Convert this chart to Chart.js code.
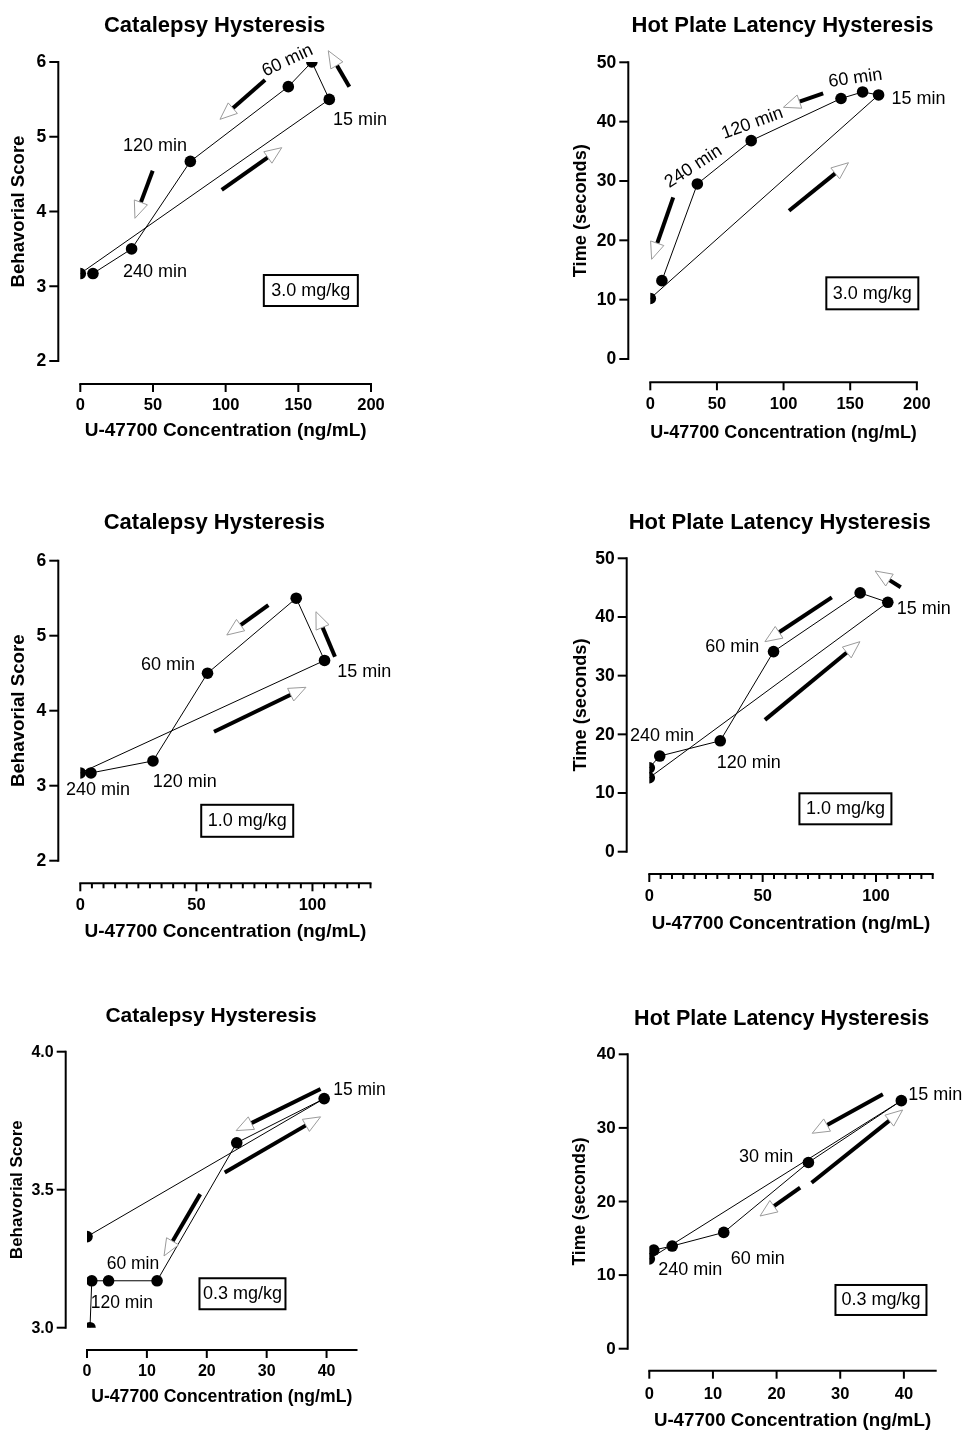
<!DOCTYPE html>
<html>
<head>
<meta charset="utf-8">
<script src="https://cdn.jsdelivr.net/npm/chart.js@4.4.1/dist/chart.umd.min.js"></script>
<style>
html,body{margin:0;padding:0;background:#fff;}
body{width:966px;height:1433px;position:relative;overflow:hidden;}
canvas{position:absolute;}
</style>
</head>
<body>
<canvas id="c1"></canvas>
<canvas id="c2"></canvas>
<canvas id="c3"></canvas>
<canvas id="c4"></canvas>
<canvas id="c5"></canvas>
<canvas id="c6"></canvas>
<script>
// ---------------- DATA ----------------
// 3.0 mg/kg
const cat30Conc  = [0, 171.3, 159.3, 143.1, 75.7, 35.3, 8.7];
const cat30Score = [3.17, 5.5, 6.0, 5.67, 4.67, 3.5, 3.17];
const hot30Conc  = [0, 171.3, 159.3, 143.1, 75.7, 35.3, 8.7];
const hot30Time  = [10.2, 44.5, 45.0, 43.9, 36.8, 29.5, 13.2];
// 1.0 mg/kg
const cat10Conc  = [0, 105.2, 93.0, 54.8, 31.3, 4.6];
const cat10Score = [3.17, 4.67, 5.5, 4.5, 3.33, 3.17];
const hot10Conc  = [0, 105.2, 93.0, 54.8, 31.3, 4.6, 0];
const hot10Time  = [12.6, 42.5, 44.1, 34.1, 18.9, 16.3, 14.3];
// 0.3 mg/kg
const cat03Conc  = [0, 39.6, 25.0, 11.7, 3.6, 0.8, 0.5];
const cat03Score = [3.33, 3.83, 3.67, 3.17, 3.17, 3.17, 3.0];
const hot03Conc  = [0, 39.6, 25.0, 11.7, 3.6, 0.7];
const hot03Time  = [12.2, 33.7, 25.3, 15.8, 13.95, 13.4];

// tick values
const xTicks200    = [0, 50, 100, 150, 200];
const xTicks125    = [0, 50, 100];
const xTicks45     = [0, 10, 20, 30, 40];
const yTicksScore6 = [2, 3, 4, 5, 6];
const yTicksTime50 = [0, 10, 20, 30, 40, 50];
const yTicksScore4 = [3.0, 3.5, 4.0];
const yTicksTime40 = [0, 10, 20, 30, 40];

// texts
const catTitle = 'Catalepsy Hysteresis';
const hotTitle = 'Hot Plate Latency Hysteresis';
const catYTitle = 'Behavorial Score';
const hotYTitle = 'Time (seconds)';
const xTitle = 'U-47700 Concentration (ng/mL)';

// ---------------- LAYOUT / ANNOTATIONS ----------------
const FONT = '"Liberation Sans", Arial, Helvetica, sans-serif';
Chart.defaults.font.family = FONT;
Chart.defaults.color = '#000';

const panels = [
  { id:'c1', canvas:{x:0,y:0,w:483,h:470}, title:catTitle, yTitle:catYTitle,
    conc:cat30Conc, vals:cat30Score, xMax:200, xTicks:xTicks200, yMin:2, yMax:6, yTicks:yTicksScore6, yDec:0, minor:null,
    g:{yAxisX:58.3, chartLeft:80.3, chartRight:371, chartTop:62, chartBottom:361, xAxisY:384, titleY:25.5, yTitleX:18.5, xTitleY:431, xLabOff:21.5},
    f:{title:22, xAxis:19, yAxis:18.6, tick:16.5, ytick:17.5, label:18},
    labels:[{t:'60 min',x:142.6,y:6.017,a:'center',r:-25},{t:'15 min',x:173.9,y:5.224,a:'left'},
            {t:'120 min',x:29.4,y:4.876,a:'left'},{t:'240 min',x:29.4,y:3.191,a:'left'}],
    arrows:[[97.3,4.288,138.6,4.854],[127.1,5.759,96.1,5.233],[49.8,4.546,37.6,3.909],[185.1,5.670,170.6,6.151]],
    box:{t:'3.0 mg/kg',x:158.6,y:2.943,w:94,h:31} },
  { id:'c2', canvas:{x:483,y:0,w:483,h:470}, title:hotTitle, yTitle:hotYTitle,
    conc:hot30Conc, vals:hot30Time, xMax:200, xTicks:xTicks200, yMin:0, yMax:50, yTicks:yTicksTime50, yDec:0, minor:null,
    g:{yAxisX:628.3, chartLeft:650.3, chartRight:936.7, chartTop:62.3, chartBottom:359, xAxisY:382.3, titleY:26, yTitleX:580.8, xTitleY:433, xLabOff:22},
    f:{title:22, xAxis:18.9, yAxis:18.2, tick:16.5, ytick:17.5, label:18},
    labels:[{t:'60 min',x:153.9,y:47.3,a:'center',r:-8},{t:'15 min',x:180.9,y:43.8,a:'left'},
            {t:'120 min',x:76.6,y:39.7,a:'center',r:-20},{t:'240 min',x:32.4,y:32.4,a:'center',r:-33}],
    arrows:[[104.1,24.99,148.7,33.08],[129.7,44.78,99.9,42.42],[17.2,27.25,1.0,16.8]],
    box:{t:'3.0 mg/kg',x:166.6,y:11.07,w:92,h:32} },
  { id:'c3', canvas:{x:0,y:470,w:483,h:485}, title:catTitle, yTitle:catYTitle,
    conc:cat10Conc, vals:cat10Score, xMax:125, xTicks:xTicks125, yMin:2, yMax:6, yTicks:yTicksScore6, yDec:0, minor:5,
    g:{yAxisX:58.3, chartLeft:80.3, chartRight:370.5, chartTop:560.7, chartBottom:860.7, xAxisY:883.3, titleY:523, yTitleX:18.5, xTitleY:932, xLabOff:21.7},
    f:{title:22, xAxis:19, yAxis:18.7, tick:16.5, ytick:17.5, label:18},
    labels:[{t:'60 min',x:49.4,y:4.611,a:'right'},{t:'15 min',x:110.7,y:4.52,a:'left'},
            {t:'120 min',x:31.2,y:3.053,a:'left'},{t:'240 min',x:-6.2,y:2.943,a:'left'}],
    arrows:[[57.6,3.72,97.2,4.312],[81.0,5.409,63.1,5.009],[109.7,4.72,101.5,5.32]],
    box:{t:'1.0 mg/kg',x:71.9,y:2.532,w:92,h:32} },
  { id:'c4', canvas:{x:483,y:470,w:483,h:485}, title:hotTitle, yTitle:hotYTitle,
    conc:hot10Conc, vals:hot10Time, xMax:125, xTicks:xTicks125, yMin:0, yMax:50, yTicks:yTicksTime50, yDec:0, minor:5,
    g:{yAxisX:626.7, chartLeft:649.3, chartRight:932.7, chartTop:558.3, chartBottom:851.7, xAxisY:874, titleY:523, yTitleX:580.5, xTitleY:924, xLabOff:22.7},
    f:{title:22, xAxis:18.8, yAxis:18.2, tick:16.5, ytick:17.5, label:18},
    labels:[{t:'15 min',x:109.1,y:41.31,a:'left'},{t:'60 min',x:48.5,y:34.83,a:'right'},
            {t:'240 min',x:-8.5,y:19.72,a:'left'},{t:'120 min',x:29.7,y:15.17,a:'left'}],
    arrows:[[51.0,22.46,92.9,35.79],[80.5,43.35,51.0,35.79],[110.9,45.06,99.6,47.84]],
    box:{t:'1.0 mg/kg',x:86.5,y:7.31,w:92,h:31} },
  { id:'c5', canvas:{x:0,y:955,w:483,h:478}, title:catTitle, yTitle:catYTitle,
    conc:cat03Conc, vals:cat03Score, xMax:45, xTicks:xTicks45, yMin:3, yMax:4, yTicks:yTicksScore4, yDec:1, minor:null,
    g:{yAxisX:65.7, chartLeft:87, chartRight:356.5, chartTop:1051.7, chartBottom:1327.7, xAxisY:1350, titleY:1016, yTitleX:17, xTitleY:1397, xLabOff:21.7},
    f:{title:21, xAxis:17.6, yAxis:17, tick:16, ytick:16, label:17.5},
    labels:[{t:'15 min',x:41.1,y:3.859,a:'left'},{t:'60 min',x:3.29,y:3.23,a:'left'},{t:'120 min',x:0.62,y:3.088,a:'left'}],
    arrows:[[39.0,3.865,24.9,3.714],[23.0,3.562,39.0,3.764],[18.9,3.484,12.86,3.26]],
    box:{t:'0.3 mg/kg',x:25.96,y:3.123,w:86,h:31} },
  { id:'c6', canvas:{x:483,y:955,w:483,h:478}, title:hotTitle, yTitle:hotYTitle,
    conc:hot03Conc, vals:hot03Time, xMax:45, xTicks:xTicks45, yMin:0, yMax:40, yTicks:yTicksTime40, yDec:0, minor:null,
    g:{yAxisX:627.7, chartLeft:649.3, chartRight:935.7, chartTop:1054.3, chartBottom:1348.7, xAxisY:1370.7, titleY:1019, yTitleX:580, xTitleY:1421, xLabOff:24},
    f:{title:21.5, xAxis:18.7, yAxis:17.5, tick:16.5, ytick:17, label:18},
    labels:[{t:'15 min',x:40.7,y:34.47,a:'left'},{t:'30 min',x:22.6,y:26.09,a:'right'},
            {t:'240 min',x:1.41,y:10.69,a:'left'},{t:'60 min',x:12.8,y:12.15,a:'left'}],
    arrows:[[36.7,34.57,25.6,29.27],[25.5,22.55,39.8,32.43],[23.7,21.88,17.4,18.03]],
    box:{t:'0.3 mg/kg',x:36.4,y:6.62,w:91,h:30} }
];

// ---------------- PLUGIN: offset axes + annotations ----------------
const decor = {
  id: 'decor',
  beforeDatasetsDraw(chart, args, o) {
    const ctx = chart.ctx, xs = chart.scales.x, ys = chart.scales.y;
    ctx.save();
    ctx.strokeStyle = '#000';
    ctx.lineWidth = 2;
    ctx.lineCap = 'butt';
    // y axis (offset from the plot area)
    const ax = o.axisX;
    ctx.beginPath();
    ctx.moveTo(ax, ys.getPixelForValue(ys.max) - 1);
    ctx.lineTo(ax, ys.getPixelForValue(ys.min) + 1);
    ctx.stroke();
    ctx.fillStyle = '#000';
    ctx.font = 'bold ' + o.tickSize + 'px ' + FONT;
    ctx.textAlign = 'right';
    ctx.textBaseline = 'middle';
    ys.ticks.forEach(t => {
      const y = ys.getPixelForValue(t.value);
      ctx.beginPath(); ctx.moveTo(ax - 9, y); ctx.lineTo(ax, y); ctx.stroke();
      ctx.fillText(Number(t.value).toFixed(o.yDec), ax - 12, y + 0.5);
    });
    // x axis (offset below the plot area)
    const ay = o.axisY;
    ctx.beginPath();
    ctx.moveTo(xs.getPixelForValue(xs.min) - 1, ay);
    ctx.lineTo(xs.getPixelForValue(xs.max) + 1, ay);
    ctx.stroke();
    xs.ticks.forEach(t => {
      const x = xs.getPixelForValue(t.value);
      ctx.beginPath(); ctx.moveTo(x, ay); ctx.lineTo(x, ay + 8); ctx.stroke();
    });
    if (o.minor) {
      const majors = xs.ticks.map(t => t.value);
      for (let v = xs.min; v <= xs.max + 1e-9; v += o.minor) {
        if (majors.includes(v)) continue;
        const x = xs.getPixelForValue(v);
        ctx.beginPath(); ctx.moveTo(x, ay); ctx.lineTo(x, ay + 5); ctx.stroke();
      }
    }
    ctx.restore();
  },
  afterDatasetsDraw(chart, args, o) {
    const ctx = chart.ctx, xs = chart.scales.x, ys = chart.scales.y;
    ctx.save();
    // arrows
    (o.arrows || []).forEach(a => {
      const x0 = xs.getPixelForValue(a[0]), y0 = ys.getPixelForValue(a[1]);
      const x1 = xs.getPixelForValue(a[2]), y1 = ys.getPixelForValue(a[3]);
      const dx = x1 - x0, dy = y1 - y0, len = Math.hypot(dx, dy);
      const ux = dx / len, uy = dy / len;
      const HL = 17, HW = 7;
      const bx = x1 - ux * HL, by = y1 - uy * HL;
      ctx.strokeStyle = '#000'; ctx.lineWidth = 4; ctx.lineCap = 'butt';
      ctx.beginPath(); ctx.moveTo(x0, y0); ctx.lineTo(bx, by); ctx.stroke();
      ctx.beginPath();
      ctx.moveTo(x1, y1);
      ctx.lineTo(bx - uy * HW, by + ux * HW);
      ctx.lineTo(bx + uy * HW, by - ux * HW);
      ctx.closePath();
      ctx.fillStyle = '#fff'; ctx.fill();
      ctx.strokeStyle = '#9a9a9a'; ctx.lineWidth = 1; ctx.stroke();
    });
    // time labels
    ctx.fillStyle = '#000';
    ctx.font = o.labelSize + 'px ' + FONT;
    ctx.textBaseline = 'middle';
    (o.labels || []).forEach(l => {
      const x = xs.getPixelForValue(l.x), y = ys.getPixelForValue(l.y);
      ctx.save();
      ctx.translate(x, y);
      if (l.r) ctx.rotate(l.r * Math.PI / 180);
      ctx.textAlign = l.a || 'left';
      ctx.fillText(l.t, 0, 0);
      ctx.restore();
    });
    // dose box
    if (o.box) {
      const b = o.box;
      const x = xs.getPixelForValue(b.x), y = ys.getPixelForValue(b.y);
      ctx.strokeStyle = '#000'; ctx.lineWidth = 2;
      ctx.strokeRect(x - b.w / 2, y - b.h / 2, b.w, b.h);
      ctx.font = '18px ' + FONT;
      ctx.textAlign = 'center';
      ctx.fillText(b.t, x, y + 0.5);
    }
    ctx.restore();
  }
};

// ---------------- BUILD CHARTS ----------------
function makePanel(p) {
  const cv = document.getElementById(p.id);
  const {x: L, y: T, w: W, h: H} = p.canvas;
  cv.width = W; cv.height = H;
  cv.style.left = L + 'px'; cv.style.top = T + 'px';
  cv.style.width = W + 'px'; cv.style.height = H + 'px';
  const g = p.g, f = p.f;
  const titleLH = f.title * 1.2, xLH = f.xAxis * 1.2, yLH = f.yAxis * 1.2, tickLH = f.tick * 1.2;
  const padTop = g.titleY - titleLH / 2 - T;
  const titlePadBottom = g.chartTop - g.titleY - titleLH / 2;
  const xScaleH = g.xTitleY + xLH / 2 - g.chartBottom;
  const padBottom = (T + H) - g.chartBottom - xScaleH;
  const padLeft = g.yAxisX - L;
  const yScaleW = g.chartLeft - g.yAxisX;
  const padRight = (L + W) - g.chartRight;
  const xTickPad = (g.xAxisY + g.xLabOff) - g.chartBottom - tickLH / 2;
  const yTitlePad = g.yTitleX - g.yAxisX - yLH / 2;

  const points = p.conc.map((c, i) => ({x: c, y: p.vals[i]}));

  return new Chart(cv, {
    type: 'scatter',
    data: {
      datasets: [{
        data: points,
        showLine: true,
        tension: 0,
        borderColor: '#000',
        borderWidth: 1,
        pointRadius: 5.8,
        pointHoverRadius: 5.8,
        pointBackgroundColor: '#000',
        pointBorderWidth: 0,
        clip: 0
      }]
    },
    options: {
      responsive: false,
      maintainAspectRatio: false,
      animation: false,
      devicePixelRatio: 1,
      layout: { autoPadding: false, padding: { left: padLeft, right: padRight, top: padTop, bottom: padBottom } },
      scales: {
        x: {
          type: 'linear', position: 'bottom', min: 0, max: p.xMax,
          grid: { display: false, drawTicks: false },
          border: { display: false },
          afterBuildTicks: s => { s.ticks = p.xTicks.map(v => ({value: v})); },
          afterFit: s => { s.height = xScaleH; },
          ticks: { padding: xTickPad, autoSkip: false, maxRotation: 0, minRotation: 0,
                   font: { size: f.tick, weight: 'bold' }, color: '#000',
                   callback: v => String(v) },
          title: { display: true, text: xTitle, font: { size: f.xAxis, weight: 'bold' }, color: '#000',
                   padding: { top: 0, bottom: 0 } }
        },
        y: {
          type: 'linear', position: 'left', min: p.yMin, max: p.yMax,
          grid: { display: false, drawTicks: false },
          border: { display: false },
          afterBuildTicks: s => { s.ticks = p.yTicks.map(v => ({value: v})); },
          afterFit: s => { s.width = yScaleW; },
          ticks: { display: false },
          title: { display: true, text: p.yTitle, font: { size: f.yAxis, weight: 'bold' }, color: '#000',
                   padding: { top: yTitlePad, bottom: 0 } }
        }
      },
      plugins: {
        legend: { display: false },
        tooltip: { enabled: false },
        title: { display: true, text: p.title, font: { size: f.title, weight: 'bold' }, color: '#000',
                 padding: { top: 0, bottom: titlePadBottom } },
        decor: {
          axisX: g.yAxisX - L, axisY: g.xAxisY - T, minor: p.minor, yDec: p.yDec, tickSize: f.ytick,
          arrows: p.arrows, labels: p.labels, box: p.box, labelSize: f.label
        }
      }
    },
    plugins: [decor]
  });
}

panels.forEach(makePanel);
</script>
</body>
</html>
